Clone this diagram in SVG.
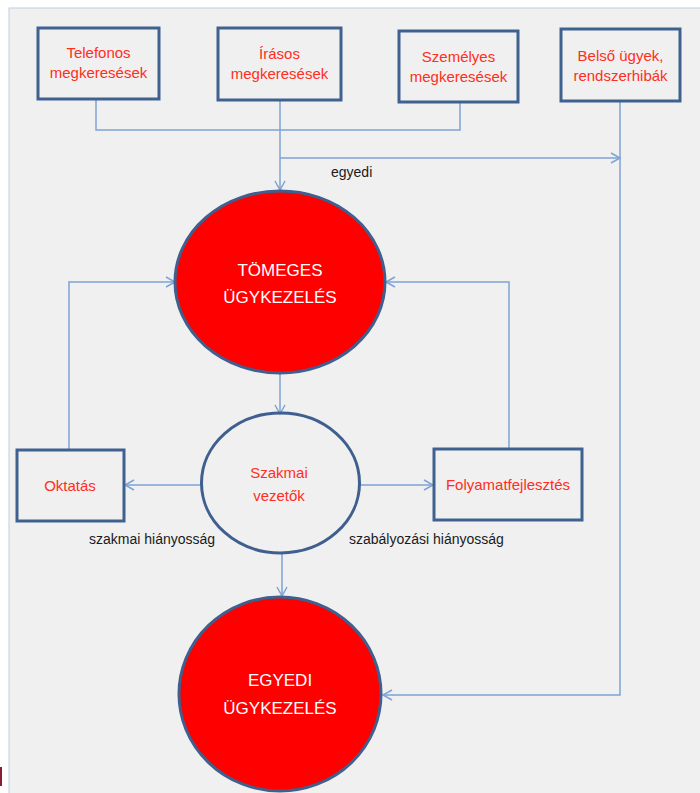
<svg xmlns="http://www.w3.org/2000/svg" width="700" height="793" viewBox="0 0 700 793">
<style>
.box{fill:none;stroke:#3f6190;stroke-width:3}
.oval{stroke:#3f5f8f;stroke-width:3}
.lbl{font-family:"Liberation Sans",Arial,sans-serif;font-size:15px;fill:#ff2e22;text-anchor:middle}
.big{font-family:"Liberation Sans",Arial,sans-serif;font-size:17px;fill:#ffffff;text-anchor:middle}
.note{font-family:"Liberation Sans",Arial,sans-serif;font-size:14px;fill:#1a1a1a}
.con{fill:none;stroke:#7ea3d4;stroke-width:1.5}
</style>
<defs>
<marker id="arr" markerWidth="12" markerHeight="12" refX="10" refY="6" orient="auto" markerUnits="userSpaceOnUse">
<polyline points="1,1 10,6 1,11" fill="none" stroke="#7ea3d4" stroke-width="1.5"/>
</marker>
</defs>
<rect x="0" y="0" width="700" height="793" fill="#ffffff"/>
<rect x="9" y="8" width="700" height="800" fill="#f0f0f0" stroke="#bccde4" stroke-width="1"/>
<rect x="0" y="767" width="2" height="19" fill="#8b1e30"/>

<g id="connectors">
<path class="con" d="M96,100 V130 H460 V103"/>
<path class="con" d="M280,101 V190" marker-end="url(#arr)"/>
<path class="con" d="M280,158 H620" marker-end="url(#arr)"/>
<path class="con" d="M620,102 V695 H383" marker-end="url(#arr)"/>
<path class="con" d="M69,449 V282 H175" marker-end="url(#arr)"/>
<path class="con" d="M509,448 V282 H386" marker-end="url(#arr)"/>
<path class="con" d="M280,374 V414" marker-end="url(#arr)"/>
<path class="con" d="M202,485 H125" marker-end="url(#arr)"/>
<path class="con" d="M359,485 H433" marker-end="url(#arr)"/>
<path class="con" d="M282,554 V596" marker-end="url(#arr)"/>
<text class="note" x="331" y="177">egyedi</text>
<text class="note" x="89" y="544">szakmai hiányosság</text>
<text class="note" x="349" y="544">szabályozási hiányosság</text>
</g>

<g id="telefonos">
<rect class="box" x="38" y="28" width="121" height="71"/>
<text class="lbl" x="98.5" y="58">Telefonos</text>
<text class="lbl" x="98.5" y="78">megkeresések</text>
</g>
<g id="irasos">
<rect class="box" x="218" y="28" width="123" height="72"/>
<text class="lbl" x="279.5" y="59">Írásos</text>
<text class="lbl" x="279.5" y="79">megkeresések</text>
</g>
<g id="szemelyes">
<rect class="box" x="399" y="31" width="119" height="71"/>
<text class="lbl" x="458.5" y="62">Személyes</text>
<text class="lbl" x="458.5" y="82">megkeresések</text>
</g>
<g id="belso">
<rect class="box" x="561" y="29" width="119" height="72"/>
<text class="lbl" x="620.5" y="61">Belső ügyek,</text>
<text class="lbl" x="620.5" y="81">rendszerhibák</text>
</g>
<g id="tomeges">
<ellipse class="oval" cx="280" cy="282" rx="105" ry="91" fill="#ff0000"/>
<text class="big" x="280" y="276">TÖMEGES</text>
<text class="big" x="280" y="303">ÜGYKEZELÉS</text>
</g>
<g id="szakmai">
<ellipse class="oval" cx="280.5" cy="483" rx="79" ry="70" fill="none"/>
<text class="lbl" x="279" y="478">Szakmai</text>
<text class="lbl" x="279" y="501">vezetők</text>
</g>
<g id="oktatas">
<rect class="box" x="17" y="450" width="107" height="71"/>
<text class="lbl" x="70" y="491">Oktatás</text>
</g>
<g id="folyamat">
<rect class="box" x="434" y="449" width="148" height="71"/>
<text class="lbl" x="508" y="490">Folyamatfejlesztés</text>
</g>
<g id="egyedi">
<ellipse class="oval" cx="280" cy="694" rx="101" ry="97" fill="#ff0000"/>
<text class="big" x="280" y="686">EGYEDI</text>
<text class="big" x="280" y="714">ÜGYKEZELÉS</text>
</g>
</svg>
